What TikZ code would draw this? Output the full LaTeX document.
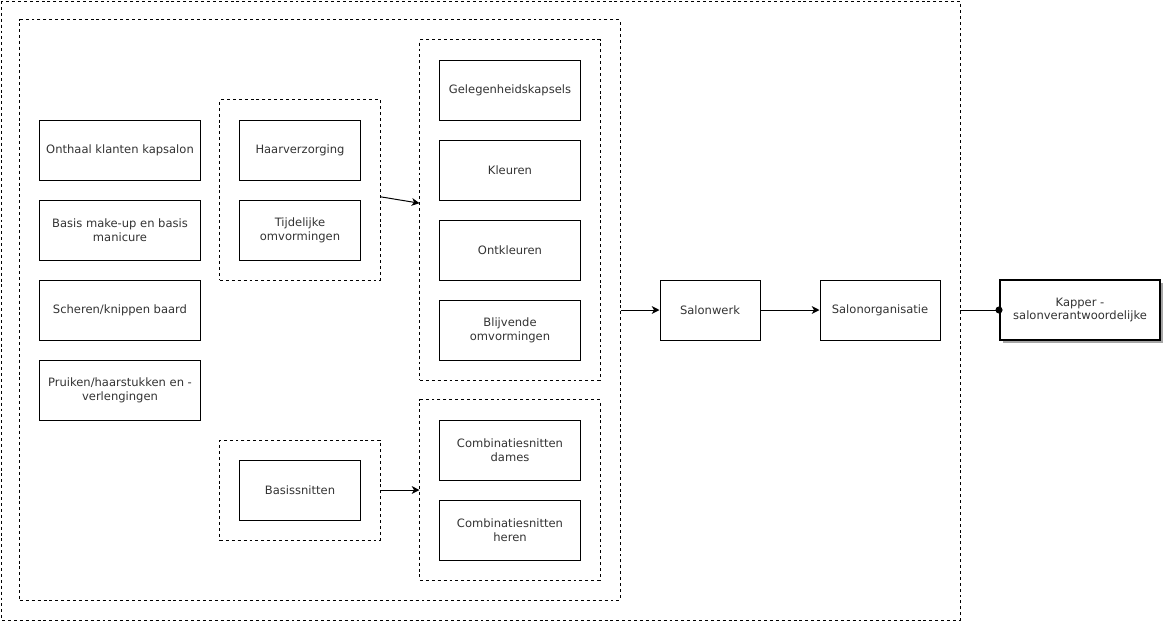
\documentclass[tikz,border=0pt]{standalone}
\usepackage{fontspec}
\setmainfont{DejaVu Sans}
\usetikzlibrary{arrows.meta,shadows}
\tikzset{
  box/.style={draw, line width=0.7pt, align=center, inner sep=1pt, text=black!80, font=\fontsize{8.2}{9.8}\selectfont},
  grp/.style={draw, line width=0.7pt, dash pattern=on 2.1pt off 2.1pt},
  conn/.style={line width=0.7pt, -{Stealth[length=5.5pt,width=5.5pt,inset=1.6pt]}}
}
\begin{document}
\begin{tikzpicture}[x=0.025cm, y=-0.025cm]
    \useasboundingbox (0,0) rectangle (1168,625);

    % Dashed frames
    \draw[grp] (1,1) rectangle (960,620);
    \node[grp, minimum width=15cm, minimum height=14.5cm] (inner) at (320,310) {};
    \node[grp, minimum width=4cm, minimum height=4.5cm] (g1) at (300,190) {};
    \node[grp, minimum width=4cm, minimum height=2.5cm] (g2) at (300,490) {};
    \node[grp, minimum width=4.5cm, minimum height=8.5cm] (g3) at (510,210) {};
    \node[grp, minimum width=4.5cm, minimum height=4.5cm] (g4) at (510,490) {};
    \coordinate (outer) at (960,310);

    % Left column
    \node[box, minimum width=4cm, minimum height=1.5cm] (onthaal) at (120,150) {Onthaal klanten kapsalon};
    \node[box, minimum width=4cm, minimum height=1.5cm] (makeup) at (120,230) {Basis make-up en basis\\manicure};
    \node[box, minimum width=4cm, minimum height=1.5cm] (baard) at (120,310) {Scheren/knippen baard};
    \node[box, minimum width=4cm, minimum height=1.5cm] (pruiken) at (120,390) {Pruiken/haarstukken en -\\verlengingen};

    % Second column
    \node[box, minimum width=3cm, minimum height=1.5cm] (haar) at (300,150) {Haarverzorging};
    \node[box, minimum width=3cm, minimum height=1.5cm] (tijd) at (300,230) {Tijdelijke\\omvormingen};
    \node[box, minimum width=3cm, minimum height=1.5cm] (basis) at (300,490) {Basissnitten};

    % Third column
    \node[box, minimum width=3.5cm, minimum height=1.5cm] (gelegen) at (510,90) {Gelegenheidskapsels};
    \node[box, minimum width=3.5cm, minimum height=1.5cm] (kleuren) at (510,170) {Kleuren};
    \node[box, minimum width=3.5cm, minimum height=1.5cm] (ontkleuren) at (510,250) {Ontkleuren};
    \node[box, minimum width=3.5cm, minimum height=1.5cm] (blijvend) at (510,330) {Blijvende\\omvormingen};
    \node[box, minimum width=3.5cm, minimum height=1.5cm] (dames) at (510,450) {Combinatiesnitten\\dames};
    \node[box, minimum width=3.5cm, minimum height=1.5cm] (heren) at (510,530) {Combinatiesnitten\\heren};

    % Right chain
    \node[box, minimum width=2.5cm, minimum height=1.5cm] (salonwerk) at (710,310) {Salonwerk};
    \node[box, minimum width=3cm, minimum height=1.5cm] (salonorg) at (880,310) {Salonorganisatie};
    \node[box, line width=1.4pt, fill=white, minimum width=4cm, minimum height=1.5cm,
          drop shadow={shadow xshift=0.07cm, shadow yshift=-0.07cm, fill=gray!70, opacity=1}] (kapper) at (1080,310) {Kapper -\\salonverantwoordelijke};

    % Connectors
    \draw[conn] ([yshift=-0.17cm]g1.east) -- ([yshift=0.17cm]g3.west);
    \draw[conn] (g2.east) -- (g4.west);
    \draw[conn] (inner.east) -- (salonwerk.west);
    \draw[conn] (salonwerk.east) -- (salonorg.west);
    \draw[line width=0.7pt, -{Circle[length=5pt]}, shorten >=-2.5pt] (outer) -- (kapper.west);
\end{tikzpicture}
\end{document}
